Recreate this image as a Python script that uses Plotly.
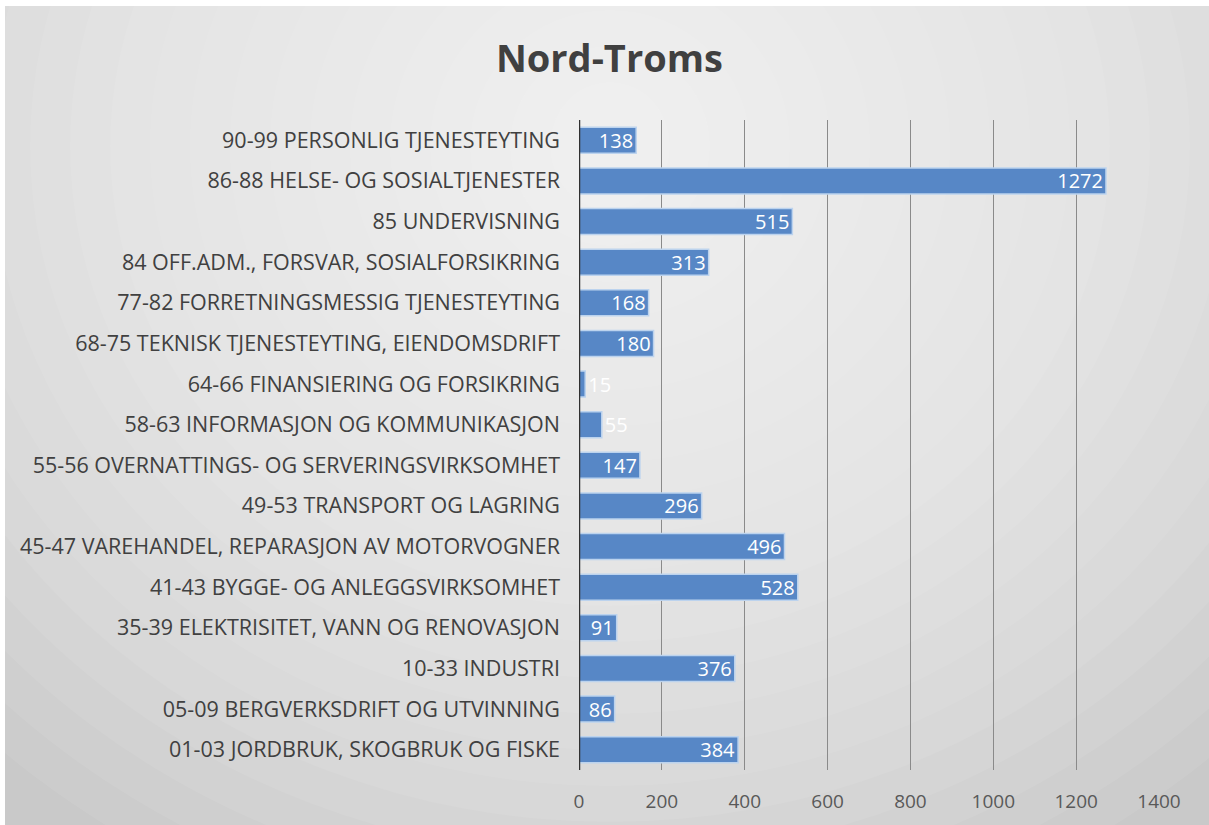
import plotly.graph_objects as go

# Nord-Troms, sysselsatte etter næring
categories = [
    "01-03 JORDBRUK, SKOGBRUK OG FISKE",
    "05-09 BERGVERKSDRIFT OG UTVINNING",
    "10-33 INDUSTRI",
    "35-39 ELEKTRISITET, VANN OG RENOVASJON",
    "41-43 BYGGE- OG ANLEGGSVIRKSOMHET",
    "45-47 VAREHANDEL, REPARASJON AV MOTORVOGNER",
    "49-53 TRANSPORT OG LAGRING",
    "55-56 OVERNATTINGS- OG SERVERINGSVIRKSOMHET",
    "58-63 INFORMASJON OG KOMMUNIKASJON",
    "64-66 FINANSIERING OG FORSIKRING",
    "68-75 TEKNISK TJENESTEYTING, EIENDOMSDRIFT",
    "77-82 FORRETNINGSMESSIG TJENESTEYTING",
    "84 OFF.ADM., FORSVAR, SOSIALFORSIKRING",
    "85 UNDERVISNING",
    "86-88 HELSE- OG SOSIALTJENESTER",
    "90-99 PERSONLIG TJENESTEYTING",
]
values = [384, 86, 376, 91, 528, 496, 296, 147, 55, 15, 180, 168, 313, 515, 1272, 138]
x_ticks = [0, 200, 400, 600, 800, 1000, 1200, 1400]

# page body margin is set to 6px top / 5px left below, figure fills the rest
W, H = 1204, 819
ml, mr, mt, mb = 574, 50, 114, 55
pw, ph = W - ml - mr, H - mt - mb

def px_x(p):
    return (p - ml) / pw

def px_y(p):
    return (H - mb - p) / ph

# labels too wide for their bar go just past the bar end, still white
text_pos = ["outside" if v < 60 else "inside" for v in values]

fig = go.Figure()
fig.add_trace(go.Bar(
    y=categories, x=values, orientation="h",
    marker=dict(color="#5787c6", line=dict(color="#bcd3ee", width=1.5)),
    text=values, textposition=text_pos, insidetextanchor="end", textangle=0,
    textfont=dict(color="white", size=20, family="Open Sans"),
    outsidetextfont=dict(color="white", size=20, family="Open Sans"),
    cliponaxis=False,
))

# grey background with a soft light centre
shapes = []
cx, cy = 605, 140
for i in range(22):
    rx = 900 - i * 40
    ry = 820 - i * 36
    shapes.append(dict(type="circle", xref="paper", yref="paper", layer="below",
                       x0=px_x(cx - rx), x1=px_x(cx + rx),
                       y0=px_y(cy + ry), y1=px_y(cy - ry),
                       fillcolor="rgba(255,255,255,0.07)", line_width=0))
shapes.append(dict(type="line", xref="x", yref="paper", x0=0, x1=0, y0=0, y1=1,
                   line=dict(color="#303030", width=2.5)))

fig.update_layout(
    width=W, height=H,
    margin=dict(l=ml, r=mr, t=mt, b=mb),
    paper_bgcolor="#c9c9c9",
    plot_bgcolor="rgba(0,0,0,0)",
    shapes=shapes,
    bargap=0.36,
    showlegend=False,
    uniformtext=dict(minsize=20, mode="show"),
    title=dict(text="<b>Nord-Troms</b>", x=0.502, xanchor="center", y=0.936,
               yanchor="middle", font=dict(size=38, color="#404040", family="Open Sans")),
    font=dict(family="Open Sans", color="#404040"),
    xaxis=dict(range=[0, 1400], tickvals=x_ticks, showgrid=True, gridcolor="#8a8a8a",
               gridwidth=1, zeroline=False, showline=False, ticks="",
               tickfont=dict(size=19, color="#595959"), ticklabelstandoff=18),
    yaxis=dict(showgrid=False, zeroline=False, showline=False, ticks="",
               tickfont=dict(size=21.5, color="#404040"), ticklabelstandoff=18),
)

fig.write_html("out.html", post_script="document.body.style.margin = '6px 0 0 5px';")
